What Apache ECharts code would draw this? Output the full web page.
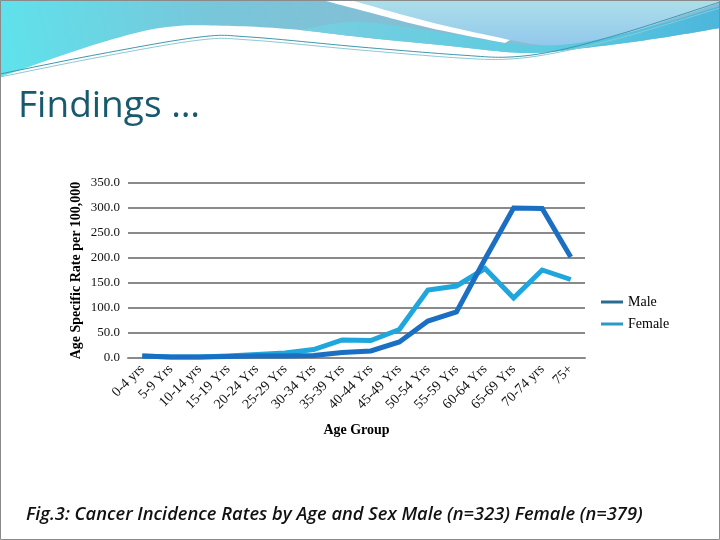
<!DOCTYPE html>
<html>
<head>
<meta charset="utf-8">
<script src="https://cdn.jsdelivr.net/npm/echarts@6/dist/echarts.min.js"></script>
<style>
  html, body { margin: 0; padding: 0; background: #fff; }
  #chart { width: 720px; height: 540px; }
</style>
</head>
<body>
<div id="chart"></div>
<script>
// age groups as printed on the axis
const ageGroups = ['0-4 yrs', '5-9 Yrs', '10-14 yrs', '15-19 Yrs', '20-24 Yrs', '25-29 Yrs',
  '30-34 Yrs', '35-39 Yrs', '40-44 Yrs', '45-49 Yrs', '50-54 Yrs', '55-59 Yrs',
  '60-64 Yrs', '65-69 Yrs', '70-74 yrs', '75+'];

// rates per 100,000
const maleRates = [4, 2, 2, 3, 4, 4, 5, 11, 14, 32, 74, 92, 198, 300, 299, 202];
const femaleRates = [4, 2, 2, 4, 7, 10, 17, 36, 35, 57, 136, 144, 179, 120, 176, 157];

const yTicks = { min: 0, max: 350, step: 50 };

const serif = '"Liberation Serif", "DejaVu Serif", serif';
const chart = echarts.init(document.getElementById('chart'));

// slide decoration: smooth a list of points into polygon/polyline points
function curve(pts) {
  const out = [];
  for (let i = 0; i < pts.length - 1; i++) {
    const p0 = pts[Math.max(i - 1, 0)], p1 = pts[i], p2 = pts[i + 1], p3 = pts[Math.min(i + 2, pts.length - 1)];
    for (let j = 0; j < 12; j++) {
      const t = j / 12, t2 = t * t, t3 = t2 * t;
      out.push([0, 1].map(k => 0.5 * ((2 * p1[k]) + (-p0[k] + p2[k]) * t +
        (2 * p0[k] - 5 * p1[k] + 4 * p2[k] - p3[k]) * t2 + (-p0[k] + 3 * p1[k] - 3 * p2[k] + p3[k]) * t3)));
    }
  }
  out.push(pts[pts.length - 1]);
  return out;
}

const blueEdge = curve([[0, 77], [100, 43], [167, 27], [233, 26], [300, 30], [360, 37], [450, 46], [527, 53], [593, 47], [660, 38], [720, 28]]);
const ribbonTop = curve([[300, 30], [360, 22], [450, 34], [527, 45], [593, 40], [660, 24], [720, 6]]);
const ribbonBot = curve([[300, 30], [360, 37], [450, 46], [527, 53], [593, 47], [660, 38], [720, 28]]);
const paleEdge = curve([[345, 0], [420, 20], [510, 40], [560, 45], [627, 33], [680, 16], [720, 3]]);
const streakTop = curve([[350, 0], [430, 22], [510, 40]]);
const streakBot = curve([[322, 0], [360, 10], [430, 28], [505, 43]]);
const line1 = curve([[0, 74], [100, 54], [200, 37], [250, 37], [360, 47], [460, 55], [510, 57], [560, 50], [627, 32], [720, 2]]);
const line2 = curve([[0, 77], [100, 57], [200, 40], [250, 40], [360, 50], [460, 58], [510, 59], [560, 52], [627, 36], [720, 8]]);

chart.setOption({
  backgroundColor: '#ffffff',
  animation: false,
  color: ['#1b6fc2', '#1fa6dd'],
  graphic: [
    { type: 'polygon', z: 0, shape: { points: [[0, 0], [720, 0]].concat(blueEdge.slice().reverse()) },
      style: { fill: { type: 'linear', x: 0, y: 1, x2: 0.6, y2: 0,
        colorStops: [{ offset: 0, color: '#5ee3ec' }, { offset: 0.5, color: '#78c6da' }, { offset: 1, color: '#86bdd4' }] } } },
    { type: 'polygon', z: 0, shape: { points: ribbonTop.concat(ribbonBot.slice().reverse()) },
      style: { fill: { type: 'linear', x: 0, y: 0, x2: 1, y2: 0,
        colorStops: [{ offset: 0, color: '#78cfe0' }, { offset: 0.6, color: '#5ccbe0' }, { offset: 1, color: '#4cb6dc' }] } } },
    { type: 'polygon', z: 0, shape: { points: [[720, 0], [345, 0]].concat(paleEdge) },
      style: { fill: { type: 'linear', x: 0, y: 0, x2: 0, y2: 1,
        colorStops: [{ offset: 0, color: '#addfe9' }, { offset: 1, color: '#92c8ec' }] } } },
    { type: 'polygon', z: 1, shape: { points: streakTop.concat(streakBot.slice().reverse()) },
      style: { fill: '#ffffff' } },
    { type: 'polyline', z: 1, shape: { points: line1 }, style: { stroke: '#3f98ad', lineWidth: 1, fill: null } },
    { type: 'polyline', z: 1, shape: { points: line2 }, style: { stroke: '#8cc9d6', lineWidth: 1, fill: null } },
    { type: 'rect', z: 2, shape: { x: 0.5, y: 0.5, width: 719, height: 539 },
      style: { fill: 'none', stroke: '#8a8a8a', lineWidth: 1 } },
    { type: 'text', left: 18, top: 88, z: 5,
      style: { text: 'Findings …', font: '37px "Open Sans", sans-serif', fill: '#175a6e' } },
    { type: 'text', left: 26, top: 506, z: 5,
      style: { text: 'Fig.3: Cancer Incidence Rates by Age and Sex Male (n=323) Female (n=379)',
        font: 'italic 600 18.3px "Open Sans", sans-serif', fill: '#111' } }
  ],
  legend: {
    orient: 'vertical',
    left: 596,
    top: 290,
    itemGap: 8,
    itemWidth: 22,
    itemHeight: 3,
    icon: 'rect',
    textStyle: { fontFamily: serif, fontSize: 14, color: '#000' },
    data: [
      { name: 'Male', itemStyle: { color: '#2b6b90' } },
      { name: 'Female', itemStyle: { color: '#2a9cc4' } }
    ]
  },
  grid: { left: 128, right: 135, top: 183, bottom: 182 },
  xAxis: {
    type: 'category',
    data: ageGroups,
    boundaryGap: true,
    name: 'Age Group',
    nameLocation: 'middle',
    nameGap: 65,
    nameTextStyle: { fontFamily: serif, fontSize: 14, fontWeight: 'bold', color: '#000' },
    axisLine: { lineStyle: { color: '#8a8a8a', width: 2 } },
    axisTick: { show: false },
    axisLabel: { rotate: 45, interval: 0, fontFamily: serif, fontSize: 14, color: '#111', margin: 9 }
  },
  yAxis: {
    type: 'value',
    min: yTicks.min,
    max: yTicks.max,
    interval: yTicks.step,
    name: 'Age Specific Rate per 100,000',
    nameLocation: 'middle',
    nameGap: 45,
    nameMoveOverlap: false,
    nameTextStyle: { fontFamily: serif, fontSize: 14, fontWeight: 'bold', color: '#000' },
    axisLine: { show: false },
    axisTick: { show: false },
    axisLabel: { formatter: v => v.toFixed(1), fontFamily: serif, fontSize: 13, color: '#111', margin: 8 },
    splitLine: { lineStyle: { color: '#8a8a8a', width: 2 } }
  },
  series: [
    { name: 'Male', type: 'line', data: maleRates, symbol: 'none',
      lineStyle: { width: 5, cap: 'butt', join: 'miter' }, z: 3 },
    { name: 'Female', type: 'line', data: femaleRates, symbol: 'none',
      lineStyle: { width: 5, cap: 'butt', join: 'miter' }, z: 2 }
  ]
});
</script>
</body>
</html>
